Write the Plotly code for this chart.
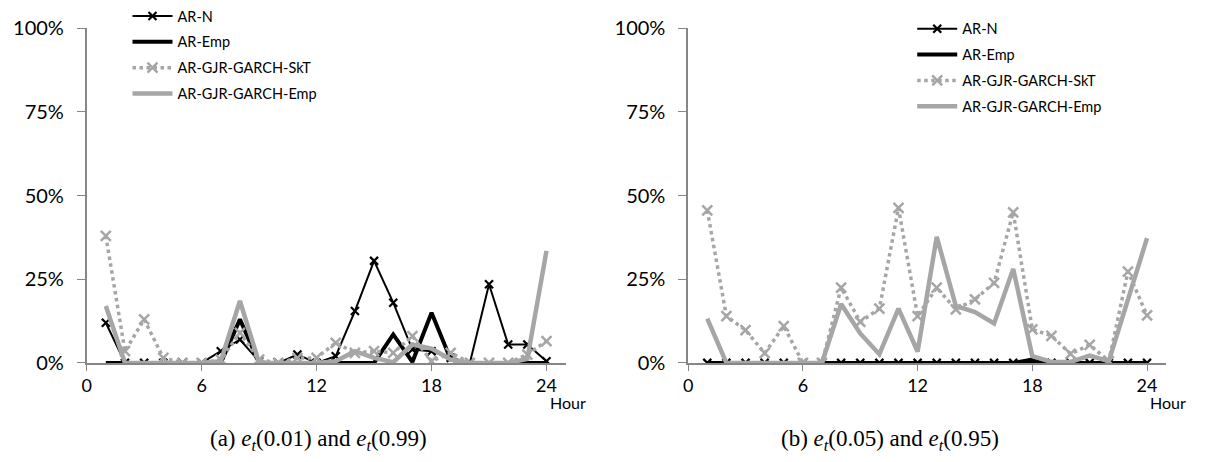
import plotly.graph_objects as go

hours = list(range(1, 25))
series_names = ["AR-N", "AR-Emp", "AR-GJR-GARCH-SkT", "AR-GJR-GARCH-Emp"]

# Panel (a): e_t(0.01) and e_t(0.99)  (percent)
a_ar_n = [12, 0, 0, 0, 0, 0, 3.5, 7, 0.5, 0, 2.5, 0, 2, 15.5, 30.5, 18, 4, 3.5, 1.5, 0, 23.5, 5.5, 5.5, 0.5]
a_ar_emp = [0, 0, 0, 0, 0, 0, 0, 13, 0, 0, 0, 0, 0, 0, 0, 8.5, 0.3, 15, 1, 0, 0, 0, 0, 0]
a_skt = [38, 3.5, 13, 1.5, 0, 0, 1, 9, 1, 0, 1.5, 1.5, 6, 3, 3.5, 3, 8, 0.5, 3, 0, 0, 0, 2.5, 6.5]
a_gjr_emp = [17, 0, 0, 0, 0, 0, 0.5, 18.5, 0, 0, 0, 0, 0.5, 3.5, 1.5, 0.2, 5.5, 4.3, 1, 0, 0, 0, 1.2, 33.5]

# Panel (b): e_t(0.05) and e_t(0.95)  (percent)
b_ar_n = [0] * 24
b_ar_emp = [0, 0, 0, 0, 0, 0, 0, 0, 0, 0, 0, 0, 0, 0, 0, 0, 0, 1, 0, 0, 0, 0, 0, 0]
b_skt = [45.6, 14, 9.8, 2.9, 11, 0, 0, 22.5, 12.3, 16.2, 46.3, 14, 22.5, 16, 19, 23.9, 45, 10, 8.1, 2.7, 5.4, 0.5, 27.3, 14.2]
b_gjr_emp = [13.2, 0, 0, 0, 0, 0, 0, 17.6, 8.8, 2.6, 16.2, 3.4, 37.7, 17, 15.2, 11.8, 28.1, 2, 0.3, 0.3, 2.2, 0.5, 19, 37.3]

x_ticks = [0, 6, 12, 18, 24]
y_ticks = [0, 25, 50, 75, 100]
y_ticktext = ["0%", "25%", "50%", "75%", "100%"]
captions = ["(a) <i>e</i><sub><i>t</i></sub>(0.01) and <i>e</i><sub><i>t</i></sub>(0.99)",
            "(b) <i>e</i><sub><i>t</i></sub>(0.05) and <i>e</i><sub><i>t</i></sub>(0.95)"]

GRAY = "#A6A6A6"
AXIS = "#868686"
FONT = "Lato"

fig = go.Figure()

def add_panel(vals, xa, ya, legend):
    ar_n, ar_emp, skt, gjr = vals
    fig.add_trace(go.Scatter(x=hours, y=ar_n, name=series_names[0], mode="lines+markers",
                             line=dict(color="black", width=2),
                             marker=dict(symbol="x-thin", size=8, line=dict(color="black", width=2.2)),
                             xaxis=xa, yaxis=ya, legend=legend, legendgroup=legend + "1"))
    fig.add_trace(go.Scatter(x=hours, y=ar_emp, name=series_names[1], mode="lines",
                             line=dict(color="black", width=4),
                             xaxis=xa, yaxis=ya, legend=legend, legendgroup=legend + "2"))
    fig.add_trace(go.Scatter(x=hours, y=skt, name=series_names[2], mode="lines+markers",
                             line=dict(color=GRAY, width=3.5, dash="dot"),
                             marker=dict(symbol="x-thin", size=10, line=dict(color=GRAY, width=2.5)),
                             xaxis=xa, yaxis=ya, legend=legend, legendgroup=legend + "3"))
    fig.add_trace(go.Scatter(x=hours, y=gjr, name=series_names[3], mode="lines",
                             line=dict(color=GRAY, width=4.5),
                             xaxis=xa, yaxis=ya, legend=legend, legendgroup=legend + "4"))

add_panel([a_ar_n, a_ar_emp, a_skt, a_gjr_emp], "x", "y", "legend")
add_panel([b_ar_n, b_ar_emp, b_skt, b_gjr_emp], "x2", "y2", "legend2")

W, H = 1208, 462
ydom = [(H - 368) / H, (H - 11) / H]
xaxis_common = dict(range=[0, 25], tickvals=x_ticks, ticks="outside", ticklen=6, tickcolor=AXIS,
                    showline=True, linecolor=AXIS, linewidth=1.5, showgrid=False, zeroline=False,
                    tickfont=dict(family=FONT, size=18, color="black"))
yaxis_common = dict(range=[0, 100], tickvals=y_ticks, ticktext=y_ticktext, ticks="outside", ticklen=8,
                    tickcolor=AXIS, showline=True, linecolor=AXIS, linewidth=1.5, showgrid=False,
                    zeroline=False, ticklabelstandoff=9, tickfont=dict(family=FONT, size=20, color="black"))

legend_common = dict(font=dict(family=FONT, size=14.5, color="black"), bgcolor="rgba(0,0,0,0)",
                     xanchor="left", yanchor="top", traceorder="grouped", tracegroupgap=4,
                     itemwidth=40)

fig.update_layout(
    width=W, height=H, margin=dict(l=0, r=0, t=0, b=0),
    paper_bgcolor="white", plot_bgcolor="white",
    xaxis=dict(domain=[82 / W, 563 / W], anchor="y", **xaxis_common),
    yaxis=dict(domain=ydom, anchor="x", **yaxis_common),
    xaxis2=dict(domain=[686 / W, 1166 / W], anchor="y2", **xaxis_common),
    yaxis2=dict(domain=ydom, anchor="x2", **yaxis_common),
    legend=dict(x=123 / W, y=1.042, **legend_common),
    legend2=dict(x=911 / W, y=1.012, **legend_common),
    showlegend=True,
)

for xc, txt in zip([315, 889], captions):
    fig.add_annotation(x=xc / W, y=(H - 450) / H, xref="paper", yref="paper", text=txt,
                       xanchor="center", yanchor="middle", showarrow=False,
                       font=dict(family="Liberation Serif", size=23, color="black"))
for xc in [565, 1168]:
    fig.add_annotation(x=xc / W, y=(H - 410) / H, xref="paper", yref="paper", text="Hour",
                       xanchor="center", yanchor="middle", showarrow=False,
                       font=dict(family=FONT, size=16, color="black"))

fig.write_html("out.html")
